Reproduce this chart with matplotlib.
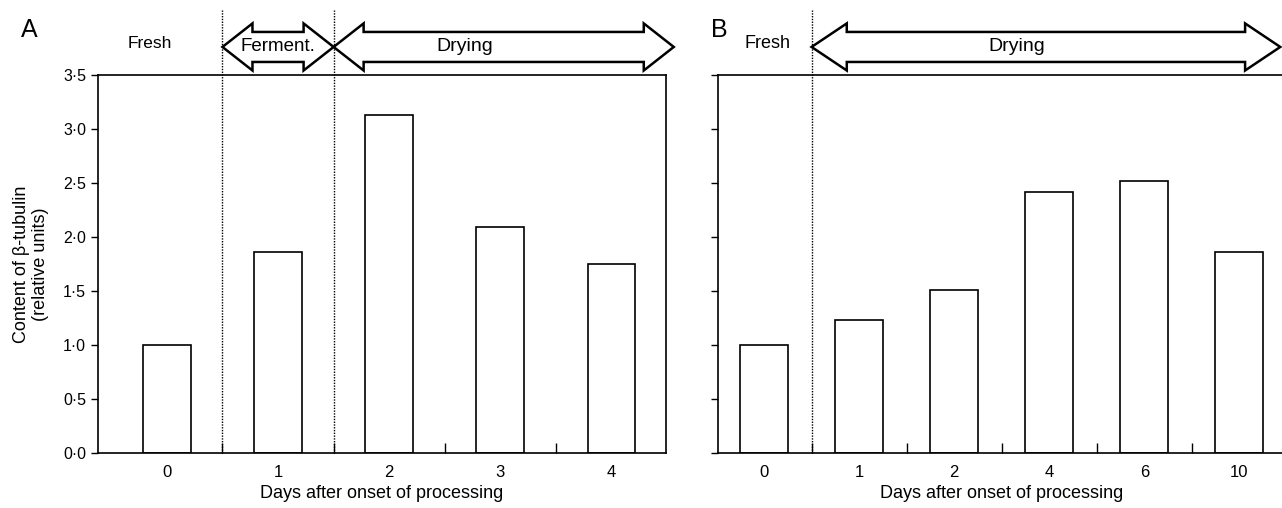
import numpy as np
import matplotlib
matplotlib.use('Agg')
import matplotlib.pyplot as plt
from matplotlib.patches import Polygon

plt.rcParams['font.family'] = ['Liberation Sans', 'DejaVu Sans']

# data
days_a = ['0', '1', '2', '3', '4']
tubulin_a = [1.0, 1.86, 3.13, 2.09, 1.75]
days_b = ['0', '1', '2', '4', '6', '10']
tubulin_b = [1.0, 1.23, 1.51, 2.42, 2.52, 1.86]
yticks = [0.0, 0.5, 1.0, 1.5, 2.0, 2.5, 3.0, 3.5]
ytick_labels = [f'{v:.1f}'.replace('.', '\u00b7') for v in yticks]

fig = plt.figure(figsize=(12.82, 5.08), dpi=100)
axA = fig.add_axes([0.0764, 0.1083, 0.4431, 0.744])
axB = fig.add_axes([0.5601, 0.1083, 0.4430, 0.744])


def double_arrow(ax, x0, x1, yc, L, h=0.218, b=0.139):
    pts = [(x0, yc), (x0 + L, yc + h), (x0 + L, yc + b), (x1 - L, yc + b),
           (x1 - L, yc + h), (x1, yc), (x1 - L, yc - h), (x1 - L, yc - b),
           (x0 + L, yc - b), (x0 + L, yc - h)]
    ax.add_patch(Polygon(pts, closed=True, fill=True, facecolor='white',
                         edgecolor='black', lw=1.8, clip_on=False, zorder=5))


def style(ax, n, xlim, width, vals, labels, show_ylab):
    x = np.arange(n)
    ax.bar(x, vals, width=width, facecolor='white', edgecolor='black', lw=1.2)
    ax.set_xlim(*xlim)
    ax.set_ylim(0, 3.5)
    ax.set_xticks(x)
    ax.set_xticklabels(labels, fontsize=12)
    ax.tick_params(axis='x', which='major', length=0, pad=9)
    ax.set_xticks(x[:-1] + 0.5, minor=True)
    ax.tick_params(axis='x', which='minor', direction='in', length=7, width=1)
    ax.set_yticks(yticks)
    if show_ylab:
        ax.set_yticklabels(ytick_labels, fontsize=11.5)
    else:
        ax.set_yticklabels([])
    ax.tick_params(axis='y', direction='out', length=5, width=1)
    for s in ax.spines.values():
        s.set_linewidth(1.2)
    ax.set_xlabel('Days after onset of processing', fontsize=13, labelpad=3)


style(axA, len(days_a), (-0.62, 4.49), 0.43, tubulin_a, days_a, True)
style(axB, len(days_b), (-0.484, 5.49), 0.505, tubulin_b, days_b, False)
axB.spines['right'].set_visible(False)

axA.set_ylabel('Content of \u03b2-tubulin\n(relative units)', fontsize=13, labelpad=10)

# phase separators
for ax, seps in ((axA, [0.5, 1.5]), (axB, [0.5])):
    ax.vlines(seps, 0, 4.1, colors='black', linestyles=(0, (1, 1)), lw=1.0,
              clip_on=False, zorder=4)

yc = 3.76
double_arrow(axA, 0.5, 1.5, yc, 0.27)
double_arrow(axA, 1.5, 4.56, yc, 0.27)
double_arrow(axB, 0.5, 5.43, yc, 0.37)

axA.text(-0.15, 3.79, 'Fresh', ha='center', va='center', fontsize=12.5, zorder=6)
axA.text(1.0, yc, 'Ferment.', ha='center', va='center', fontsize=13.5, zorder=6)
axA.text(2.68, yc, 'Drying', ha='center', va='center', fontsize=14, zorder=6)
axB.text(0.04, 3.79, 'Fresh', ha='center', va='center', fontsize=13, zorder=6)
axB.text(2.66, yc, 'Drying', ha='center', va='center', fontsize=14, zorder=6)

fig.text(29 / 1282, 1 - 30 / 508, 'A', fontsize=18, ha='center', va='center')
fig.text(719 / 1282, 1 - 30 / 508, 'B', fontsize=18, ha='center', va='center')

fig.savefig('out.png', dpi=100)
